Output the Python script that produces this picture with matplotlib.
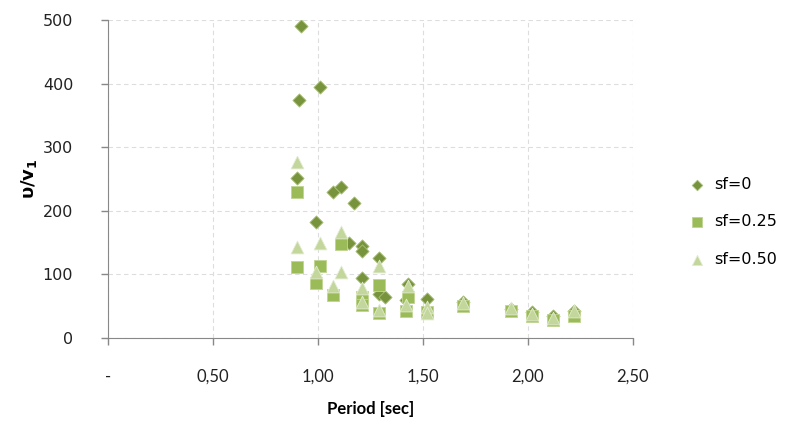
import matplotlib.pyplot as plt
import matplotlib.ticker as ticker

# sf=0 (diamonds)
t0 = [0.92, 0.91, 1.01, 0.90, 1.07, 1.11, 1.17, 0.99, 1.15, 1.21, 1.21, 1.29,
      1.21, 1.29, 1.32, 1.43, 1.42, 1.52, 1.69, 1.92, 2.02, 2.12, 2.22]
u0 = [491, 374, 394, 251, 229, 238, 213, 182, 150, 144, 137, 125,
      94, 69, 65, 85, 60, 62, 57, 45, 41, 35, 42]

# sf=0.25 (squares)
t25 = [0.90, 0.90, 1.01, 0.99, 1.07, 1.11, 1.21, 1.21, 1.29, 1.29, 1.42, 1.43,
       1.52, 1.69, 1.92, 2.02, 2.12, 2.22]
u25 = [229, 111, 113, 87, 68, 148, 65, 52, 84, 40, 42, 65,
       41, 50, 42, 35, 29, 35]

# sf=0.50 (triangles)
t50 = [0.90, 0.90, 1.01, 0.99, 1.07, 1.11, 1.11, 1.21, 1.21, 1.29, 1.29, 1.43,
       1.42, 1.52, 1.52, 1.69, 1.92, 2.02, 2.12, 2.22]
u50 = [277, 143, 149, 103, 81, 167, 104, 78, 56, 113, 44, 81,
       52, 49, 40, 55, 47, 37, 32, 43]

xticks = [0, 0.5, 1.0, 1.5, 2.0, 2.5]
xlabels = ['-', '0,50', '1,00', '1,50', '2,00', '2,50']
yticks = [0, 100, 200, 300, 400, 500]

fig = plt.figure(figsize=(7.91, 4.26), dpi=100)
ax = fig.add_axes([0.1365, 0.2066, 0.6635, 0.7464])

ax.scatter(t0, u0, marker='D', s=45, color='#77933C', edgecolors='#a8c07a',
           linewidths=0.6, label='sf=0', zorder=3)
ax.scatter(t25, u25, marker='s', s=75, color='#9BBB59', edgecolors='#c0d690',
           linewidths=0.6, label='sf=0.25', zorder=4)
ax.scatter(t50, u50, marker='^', s=85, color='#C3D69B', edgecolors='#e2ecd0',
           linewidths=0.6, label='sf=0.50', zorder=5)

ax.set_xlim(0, 2.5)
ax.set_ylim(0, 500)
ax.set_xticks(xticks)
ax.set_xticklabels(xlabels, fontsize=12, family='Lato', color='#222222')
ax.set_yticks(yticks)
ax.tick_params(axis='y', labelsize=11.5, colors='#222222', length=5, width=1,
               color='#888888', pad=20)
ax.tick_params(axis='x', length=5, width=1, color='#888888', pad=17)
ax.grid(True, linestyle=(0, (4, 3)), color='#dddddd', linewidth=0.8)
ax.set_axisbelow(True)
for s in ['top', 'right']:
    ax.spines[s].set_visible(False)
for s in ['left', 'bottom']:
    ax.spines[s].set_color('#888888')

ax.set_xlabel('Period [sec]', fontsize=12, fontweight='bold', family='Lato', labelpad=12)
ax.set_ylabel(r'$\mathbf{\upsilon/v_1}$', fontsize=13, labelpad=3)

leg = ax.legend(loc='center left', bbox_to_anchor=(1.065, 0.365), frameon=False,
                fontsize=11.5, labelspacing=1.4, handletextpad=0.05, markerscale=0.8)

fig.savefig('out.png', dpi=100)
